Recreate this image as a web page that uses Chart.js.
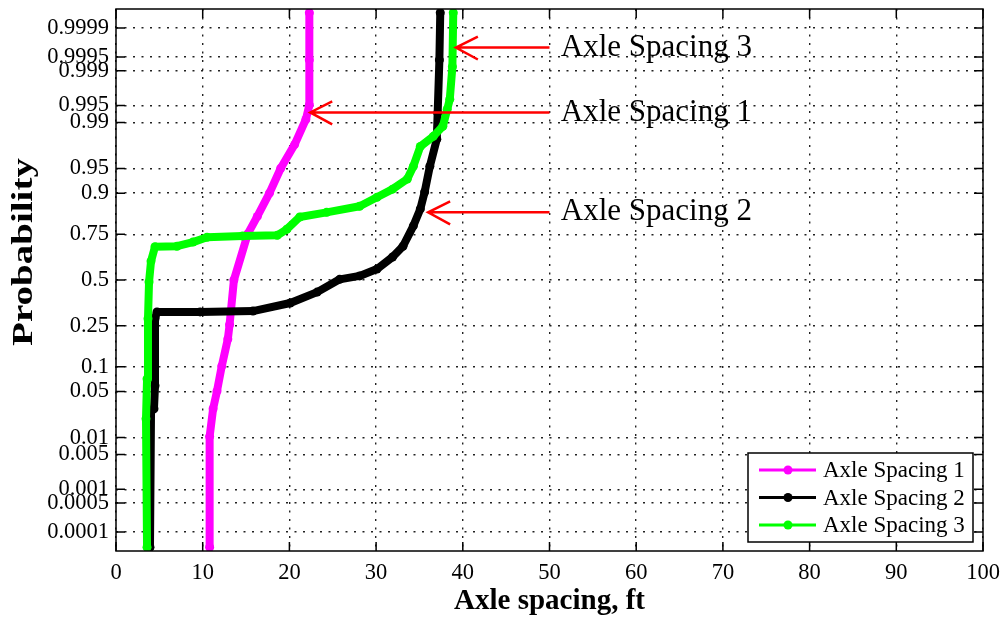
<!DOCTYPE html>
<html>
<head>
<meta charset="utf-8">
<script src="https://cdn.jsdelivr.net/npm/chart.js@4.4.0/dist/chart.umd.min.js"></script>
<style>
  body { margin: 0; background: #fff; }
</style>
</head>
<body>
<canvas id="probChart" width="1005" height="619"></canvas>
<script>
// Etiquetas del eje de probabilidad (escala normal)
const probLabels = ['0.0001', '0.0005', '0.001', '0.005', '0.01', '0.05', '0.1', '0.25', '0.5',
                    '0.75', '0.9', '0.95', '0.99', '0.995', '0.999', '0.9995', '0.9999'];

// Axle Spacing 1 (magenta)
const spacing1X = [10.8, 10.8, 11.2, 11.65, 12.2, 12.9, 13.1, 13.6, 15.2, 16.3, 17.7, 19.0, 20.6, 21.9, 22.3, 22.3, 22.3];
const spacing1P = [0.00004, 0.0104, 0.0287, 0.0505, 0.102, 0.192, 0.255, 0.5, 0.752, 0.826, 0.900, 0.9505, 0.9772, 0.9911, 0.9951, 0.99942, 0.99996];

// Axle Spacing 2 (negro)
const spacing2X = [3.92, 4.04, 4.38, 4.5, 4.5, 4.73, 9.7, 15.8, 20.1, 23.2, 25.8, 28.1, 30.1, 31.9, 33.1, 34.3, 35.1, 35.6, 36.2, 37.0, 37.1, 37.3, 37.4];
const spacing2P = [0.00004, 0.0262, 0.0287, 0.0594, 0.284, 0.319, 0.319, 0.323, 0.367, 0.429, 0.504, 0.524, 0.564, 0.633, 0.691, 0.788, 0.853, 0.903, 0.9535, 0.9812, 0.9932, 0.99942, 0.99996];

// Axle Spacing 3 (verde)
const spacing3X = [3.58, 3.46, 3.58, 3.69, 3.81, 4.04, 4.5, 7.04, 8.88, 10.5, 14.6, 18.6, 19.7, 21.2, 24.3, 28.1, 30.1, 31.9, 33.6, 34.3, 35.1, 36.6, 37.7, 38.2, 38.5, 38.8, 38.9];
const spacing3P = [0.00004, 0.0202, 0.0721, 0.284, 0.488, 0.610, 0.688, 0.691, 0.712, 0.736, 0.742, 0.745, 0.773, 0.824, 0.841, 0.862, 0.889, 0.910, 0.932, 0.9535, 0.9756, 0.983, 0.9884, 0.9941, 0.9962, 0.99918, 0.99996];

// Flechas rojas: texto y punta (en unidades de datos)
const annotLabels = ['Axle Spacing 3', 'Axle Spacing 1', 'Axle Spacing 2'];
const annotTipX = [39.2, 22.4, 36.0];
const annotTipP = [0.9997, 0.9933, 0.841];

const serif = "'Liberation Serif', 'Times New Roman', serif";

// Inversa de la normal acumulada (Acklam)
function probit(p) {
    const a = [-3.969683028665376e+01, 2.209460984245205e+02, -2.759285104469687e+02, 1.383577518672690e+02, -3.066479806614716e+01, 2.506628277459239e+00];
    const b = [-5.447609879822406e+01, 1.615858368580409e+02, -1.556989798598866e+02, 6.680131188771972e+01, -1.328068155288572e+01];
    const c = [-7.784894002430293e-03, -3.223964580411365e-01, -2.400758277161838e+00, -2.549732539343734e+00, 4.374664141464968e+00, 2.938163982698783e+00];
    const d = [7.784695709041462e-03, 3.224671290700398e-01, 2.445134137142996e+00, 3.754408661907416e+00];
    const pLow = 0.02425;
    let q, r;
    if (p < pLow) {
        q = Math.sqrt(-2 * Math.log(p));
        return (((((c[0]*q+c[1])*q+c[2])*q+c[3])*q+c[4])*q+c[5]) / ((((d[0]*q+d[1])*q+d[2])*q+d[3])*q+1);
    }
    if (p <= 1 - pLow) {
        q = p - 0.5; r = q * q;
        return (((((a[0]*r+a[1])*r+a[2])*r+a[3])*r+a[4])*r+a[5])*q / (((((b[0]*r+b[1])*r+b[2])*r+b[3])*r+b[4])*r+1);
    }
    q = Math.sqrt(-2 * Math.log(1 - p));
    return -(((((c[0]*q+c[1])*q+c[2])*q+c[3])*q+c[4])*q+c[5]) / ((((d[0]*q+d[1])*q+d[2])*q+d[3])*q+1);
}

function puntos(xs, ps) {
    return xs.map((x, i) => ({ x: x, y: probit(ps[i]) }));
}

function serie(label, xs, ps, color, order) {
    return {
        label: label,
        data: puntos(xs, ps),
        showLine: true,
        borderColor: color,
        backgroundColor: color,
        borderWidth: 8,
        borderCapStyle: 'round',
        borderJoinStyle: 'round',
        pointRadius: 4.5,
        pointBorderWidth: 0,
        order: order
    };
}

// Marco, ticks hacia dentro, leyenda, flechas y título vertical
const extras = {
    id: 'extras',
    afterDatasetsDraw(chart) {
        const ctx = chart.ctx;
        const area = chart.chartArea;
        const xs = chart.scales.x, ys = chart.scales.y;
        ctx.save();
        ctx.strokeStyle = '#000';
        ctx.lineWidth = 1.5;
        ctx.strokeRect(area.left, area.top, area.right - area.left, area.bottom - area.top);
        const tl = 9;
        ctx.beginPath();
        xs.ticks.forEach(t => {
            const px = xs.getPixelForValue(t.value);
            ctx.moveTo(px, area.bottom); ctx.lineTo(px, area.bottom - tl);
            ctx.moveTo(px, area.top); ctx.lineTo(px, area.top + tl);
        });
        ys.ticks.forEach(t => {
            const py = ys.getPixelForValue(t.value);
            ctx.moveTo(area.left, py); ctx.lineTo(area.left + tl, py);
            ctx.moveTo(area.right, py); ctx.lineTo(area.right - tl, py);
        });
        ctx.stroke();
        ctx.restore();
    },
    afterDraw(chart) {
        const ctx = chart.ctx;
        const area = chart.chartArea;
        const xs = chart.scales.x, ys = chart.scales.y;
        ctx.save();

        // leyenda
        const w = 225, h = 89;
        const bx = area.right - 10 - w, by = area.bottom - 9 - h;
        ctx.fillStyle = '#fff';
        ctx.fillRect(bx, by, w, h);
        ctx.strokeStyle = '#000';
        ctx.lineWidth = 1.5;
        ctx.strokeRect(bx, by, w, h);
        ctx.font = '23px ' + serif;
        ctx.textBaseline = 'middle';
        ctx.textAlign = 'left';
        chart.data.datasets.forEach((ds, i) => {
            const yy = by + 17 + i * 27.5;
            ctx.strokeStyle = ds.borderColor;
            ctx.lineWidth = 3;
            ctx.beginPath();
            ctx.moveTo(bx + 11, yy); ctx.lineTo(bx + 68, yy);
            ctx.stroke();
            ctx.fillStyle = ds.borderColor;
            ctx.beginPath();
            ctx.arc(bx + 40, yy, 4.5, 0, Math.PI * 2);
            ctx.fill();
            ctx.fillStyle = '#000';
            ctx.fillText(ds.label, bx + 75, yy + 1);
        });

        // flechas rojas con texto
        ctx.strokeStyle = '#ff0000';
        ctx.lineWidth = 2.5;
        ctx.font = '31px ' + serif;
        annotLabels.forEach((txt, i) => {
            const tx = xs.getPixelForValue(annotTipX[i]);
            const ty = ys.getPixelForValue(probit(annotTipP[i]));
            const tail = xs.getPixelForValue(50);
            ctx.beginPath();
            ctx.moveTo(tail, ty); ctx.lineTo(tx, ty);
            ctx.moveTo(tx + 22, ty - 11); ctx.lineTo(tx, ty); ctx.lineTo(tx + 22, ty + 12);
            ctx.stroke();
            ctx.fillStyle = '#000';
            ctx.fillText(txt, xs.getPixelForValue(51.3), ty);
        });

        // título eje y
        ctx.translate(32, (area.top + area.bottom) / 2 - 28);
        ctx.rotate(-Math.PI / 2);
        ctx.scale(1.3, 1);
        ctx.font = 'bold 30px ' + serif;
        ctx.textAlign = 'center';
        ctx.textBaseline = 'alphabetic';
        ctx.fillStyle = '#000';
        ctx.fillText('Probability', 0, 0);
        ctx.restore();
    }
};

const gridCfg = { color: '#222', lineWidth: 1.4, drawTicks: false };
const borderCfg = { display: false, dash: [2, 6.5] };

const ctx = document.getElementById('probChart').getContext('2d');
const probChart = new Chart(ctx, {
    type: 'scatter',
    data: {
        datasets: [
            serie('Axle Spacing 1', spacing1X, spacing1P, '#ff00ff', 3),
            serie('Axle Spacing 2', spacing2X, spacing2P, '#000000', 2),
            serie('Axle Spacing 3', spacing3X, spacing3P, '#00ff00', 1)
        ]
    },
    options: {
        responsive: false,
        animation: false,
        layout: { padding: { top: 9, right: 22, left: 0, bottom: 0 } },
        plugins: {
            legend: { display: false },
            tooltip: { enabled: false }
        },
        scales: {
            x: {
                type: 'linear',
                min: 0,
                max: 100,
                ticks: {
                    stepSize: 10,
                    maxRotation: 0,
                    padding: 9,
                    color: '#000',
                    font: { family: serif, size: 22.5 }
                },
                grid: gridCfg,
                border: borderCfg,
                title: {
                    display: true,
                    text: 'Axle spacing, ft',
                    color: '#000',
                    font: { family: serif, size: 29, weight: 'bold' },
                    padding: { top: 0, bottom: 0 }
                },
                afterFit: (s) => {
                    s.height = 68;
                    s.paddingLeft = 0;
                    s.paddingRight = 0;
                }
            },
            y: {
                type: 'linear',
                min: -4,
                max: 4,
                afterBuildTicks: (s) => {
                    s.ticks = probLabels.map(l => ({ value: probit(parseFloat(l)) }));
                },
                ticks: {
                    autoSkip: false,
                    padding: 7,
                    color: '#000',
                    font: { family: serif, size: 22.5 },
                    callback: (v, i) => probLabels[i]
                },
                grid: gridCfg,
                border: borderCfg,
                afterFit: (s) => {
                    s.width = 116;
                    s.paddingTop = 0;
                    s.paddingBottom = 0;
                }
            }
        }
    },
    plugins: [extras]
});
</script>
</body>
</html>
